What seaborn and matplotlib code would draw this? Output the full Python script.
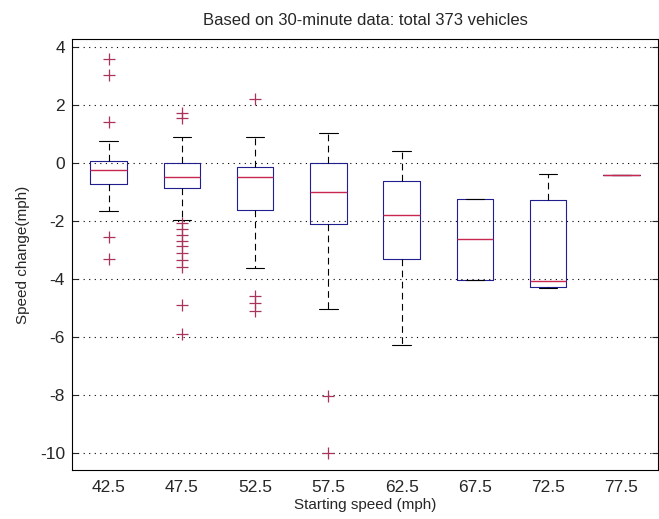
import pandas as pd
import matplotlib
matplotlib.use('Agg')
import matplotlib.pyplot as plt
import seaborn as sns

# starting speed bins
speeds = ['42.5', '47.5', '52.5', '57.5', '62.5', '67.5', '72.5', '77.5']

# box summaries: lower whisker, q1, median, q3, upper whisker
whisk_lo = [-1.66, -1.98, -3.62, -5.03, -6.30, -4.05, -4.30, -0.43]
q1 = [-0.72, -0.85, -1.63, -2.12, -3.30, -4.05, -4.28, -0.43]
median = [-0.24, -0.50, -0.50, -0.99, -1.80, -2.64, -4.07, -0.43]
q3 = [0.07, 0.0, -0.13, 0.0, -0.62, -1.24, -1.28, -0.43]
whisk_hi = [0.77, 0.90, 0.90, 1.05, 0.40, -1.24, -0.39, -0.43]

# outliers
out_speed = ['42.5'] * 5 + ['47.5'] * 12 + ['52.5'] * 4 + ['57.5'] * 2
out_value = [3.60, 3.02, 1.40, -2.55, -3.33,
             1.72, 1.55, -2.08, -2.28, -2.48, -2.68, -2.88, -3.10, -3.35, -3.58, -4.90, -5.92,
             2.20, -4.58, -4.83, -5.10,
             -8.03, -10.0]

rows = []
for i, s in enumerate(speeds):
    for v in [whisk_lo[i], q1[i], median[i], q3[i], whisk_hi[i]]:
        rows.append({'speed': s, 'change': v})
df = pd.DataFrame(rows)
df_out = pd.DataFrame({'speed': out_speed, 'change': out_value})

sns.set_style('white')
plt.rcParams['font.family'] = ['Liberation Sans', 'DejaVu Sans']
plt.rcParams['axes.unicode_minus'] = False

fig = plt.figure(figsize=(6.59, 5.19), dpi=100)
ax = fig.add_axes([72 / 659, 49 / 519, 586 / 659, 431 / 519])

box_col = '#1f1f8f'
sns.boxplot(data=df, x='speed', y='change', order=speeds, whis=(0, 100),
            width=0.5, fill=False, showfliers=False, linewidth=0.8,
            boxprops={'color': box_col},
            whiskerprops={'color': 'black', 'linestyle': (0, (6, 4))},
            capprops={'color': 'black'},
            medianprops={'color': '#c8284e'}, ax=ax)
# keep the red median on top of the box edges (matters for the flat 77.5 box)
for ln in ax.lines:
    if ln.get_color() == '#c8284e':
        ln.set_zorder(6)
        ln.set_linewidth(1.0)
sns.stripplot(data=df_out, x='speed', y='change', order=speeds, jitter=False,
              marker='+', color='#a8345a', size=8, linewidth=0.9, ax=ax)

ax.set_xlim(-0.5, 7.5)
ax.set_ylim(-10.6, 4.28)
ax.set_yticks([-10, -8, -6, -4, -2, 0, 2, 4])
ax.yaxis.grid(True, color='black', linestyle=(0, (1, 4)), linewidth=0.8)
ax.xaxis.grid(False)
ax.tick_params(axis='y', direction='in', right=True, left=True, length=4, labelsize=12.5, pad=5)
ax.tick_params(axis='x', length=0, labelsize=12.5, pad=7)
for sp in ax.spines.values():
    sp.set_visible(True)
    sp.set_color('black')
    sp.set_linewidth(0.8)

ax.set_title('Based on 30-minute data: total 373 vehicles', fontsize=12, pad=10)
ax.set_xlabel('Starting speed (mph)', fontsize=11, labelpad=2)
ax.set_ylabel('Speed change(mph)', fontsize=11, labelpad=7)

plt.savefig('out.png', dpi=100)
